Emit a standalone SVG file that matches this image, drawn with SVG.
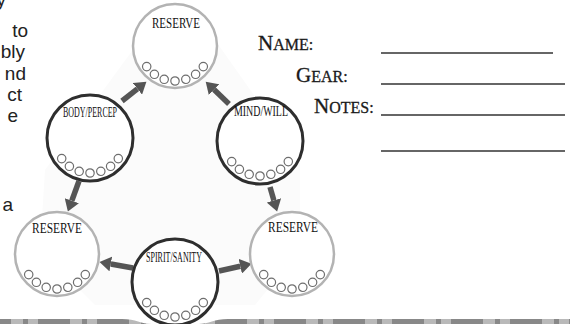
<svg xmlns="http://www.w3.org/2000/svg" xmlns:xlink="http://www.w3.org/1999/xlink" width="570" height="324" viewBox="0 0 570 324">
<style>
.frag{font-family:"Liberation Sans","DejaVu Sans",sans-serif;font-size:19px;fill:#222;text-anchor:end}
.lbl{font-family:"Liberation Serif","DejaVu Serif",serif;font-size:15px;fill:#111;text-anchor:middle}
.res{fill:#fff;stroke:#b3b3b3;stroke-width:2.5}
.att{fill:#fff;stroke:#2e2e2e;stroke-width:3}
.dot{fill:#fff;stroke:#6e6e6e;stroke-width:1.2}
.conn line{stroke:#555;stroke-width:5.5;marker-end:url(#head)}
.form{font-family:"Liberation Serif","DejaVu Serif",serif;fill:#1a1a1a;stroke:#1a1a1a;stroke-width:0.3}
.big{font-size:21px}
.sm{font-size:16px}
.rule{stroke:#333;stroke-width:1.3}
</style>
<defs>
<marker id="head" markerUnits="userSpaceOnUse" markerWidth="12" markerHeight="15" refX="0" refY="7.5" orient="auto">
<path d="M0,0 L11.5,7.5 L0,15 z" fill="#555"/>
</marker>
<g id="dots">
<circle class="dot" cx="28.3" cy="20.6" r="4.2"/>
<circle class="dot" cx="20.6" cy="28.3" r="4.2"/>
<circle class="dot" cx="10.8" cy="33.3" r="4.2"/>
<circle class="dot" cx="0" cy="35" r="4.2"/>
<circle class="dot" cx="-10.8" cy="33.3" r="4.2"/>
<circle class="dot" cx="-20.6" cy="28.3" r="4.2"/>
<circle class="dot" cx="-28.3" cy="20.6" r="4.2"/>
</g>
<pattern id="bandpat" patternUnits="userSpaceOnUse" x="38" y="0" width="59" height="10">
<rect x="0" y="0" width="59" height="10" fill="#b9b9b9"/>
<rect x="0" y="0" width="32" height="10" fill="#888"/>
<rect x="44" y="0" width="5" height="10" fill="#888"/>
</pattern>
</defs>
<rect width="570" height="324" fill="#fff"/>
<polygon points="140,40 215,40 300,160 300,250 255,305 95,305 40,250 45,170" fill="#fbfbfb"/>
<rect x="0" y="319" width="570" height="5" fill="url(#bandpat)"/>
<path d="M122,319 C136,319 141,324 152,324 L198,324 C209,324 214,319 228,319 Z" fill="#fff"/>
<g id="sidetext">
<text class="frag" x="6" y="6">y</text>
<text class="frag" x="28" y="37">to</text>
<text class="frag" x="25" y="58.3">bly</text>
<text class="frag" x="26" y="79.6">nd</text>
<text class="frag" x="22" y="100.9">ct</text>
<text class="frag" x="18" y="122.2">e</text>
<text class="frag" x="13" y="211">a</text>
</g>
<g class="conn" id="connectors">
<line x1="122" y1="101" x2="137.4" y2="88.8"/>
<line x1="229" y1="104" x2="214" y2="89.6"/>
<line x1="270" y1="187" x2="273.9" y2="200.4"/>
<line x1="79" y1="181" x2="71.8" y2="200.7"/>
<line x1="133" y1="268" x2="110.8" y2="264"/>
<line x1="219" y1="271" x2="240.3" y2="266.3"/>
</g>
<g id="reserve-top">
<circle class="res" cx="175" cy="46" r="42"/>
<text class="lbl" x="176" y="28" textLength="48" lengthAdjust="spacingAndGlyphs">RESERVE</text>
<use xlink:href="#dots" href="#dots" x="175" y="46"/>
</g>
<g id="mind-will">
<circle class="att" cx="260" cy="141" r="43"/>
<text class="lbl" x="261" y="116" textLength="54" lengthAdjust="spacingAndGlyphs">MIND/WILL</text>
<use xlink:href="#dots" href="#dots" x="260" y="141"/>
</g>
<g id="body-percep">
<circle class="att" cx="90" cy="138" r="43"/>
<text class="lbl" x="90" y="117" textLength="54" lengthAdjust="spacingAndGlyphs">BODY/PERCEP</text>
<use xlink:href="#dots" href="#dots" x="90" y="138"/>
</g>
<g id="reserve-left">
<circle class="res" cx="57" cy="254" r="42"/>
<text class="lbl" x="57" y="233" textLength="50" lengthAdjust="spacingAndGlyphs">RESERVE</text>
<use xlink:href="#dots" href="#dots" x="57" y="254"/>
</g>
<g id="reserve-right">
<circle class="res" cx="292" cy="254" r="42"/>
<text class="lbl" x="293" y="232" textLength="50" lengthAdjust="spacingAndGlyphs">RESERVE</text>
<use xlink:href="#dots" href="#dots" x="292" y="254"/>
</g>
<g id="spirit-sanity">
<circle class="att" cx="175" cy="282" r="43"/>
<text class="lbl" x="174" y="262" textLength="56" lengthAdjust="spacingAndGlyphs">SPIRIT/SANITY</text>
<use xlink:href="#dots" href="#dots" x="175" y="282"/>
</g>
<g id="form">
<text class="form" x="258" y="50"><tspan class="big">N</tspan><tspan class="sm">AME:</tspan></text>
<text class="form" x="296" y="82"><tspan class="big">G</tspan><tspan class="sm">EAR:</tspan></text>
<text class="form" x="314" y="113"><tspan class="big">N</tspan><tspan class="sm">OTES:</tspan></text>
<line class="rule" x1="381" y1="53" x2="553" y2="53"/>
<line class="rule" x1="381" y1="84" x2="565" y2="84"/>
<line class="rule" x1="381" y1="115" x2="565" y2="115"/>
<line class="rule" x1="381" y1="151" x2="565" y2="151"/>
</g>
</svg>
